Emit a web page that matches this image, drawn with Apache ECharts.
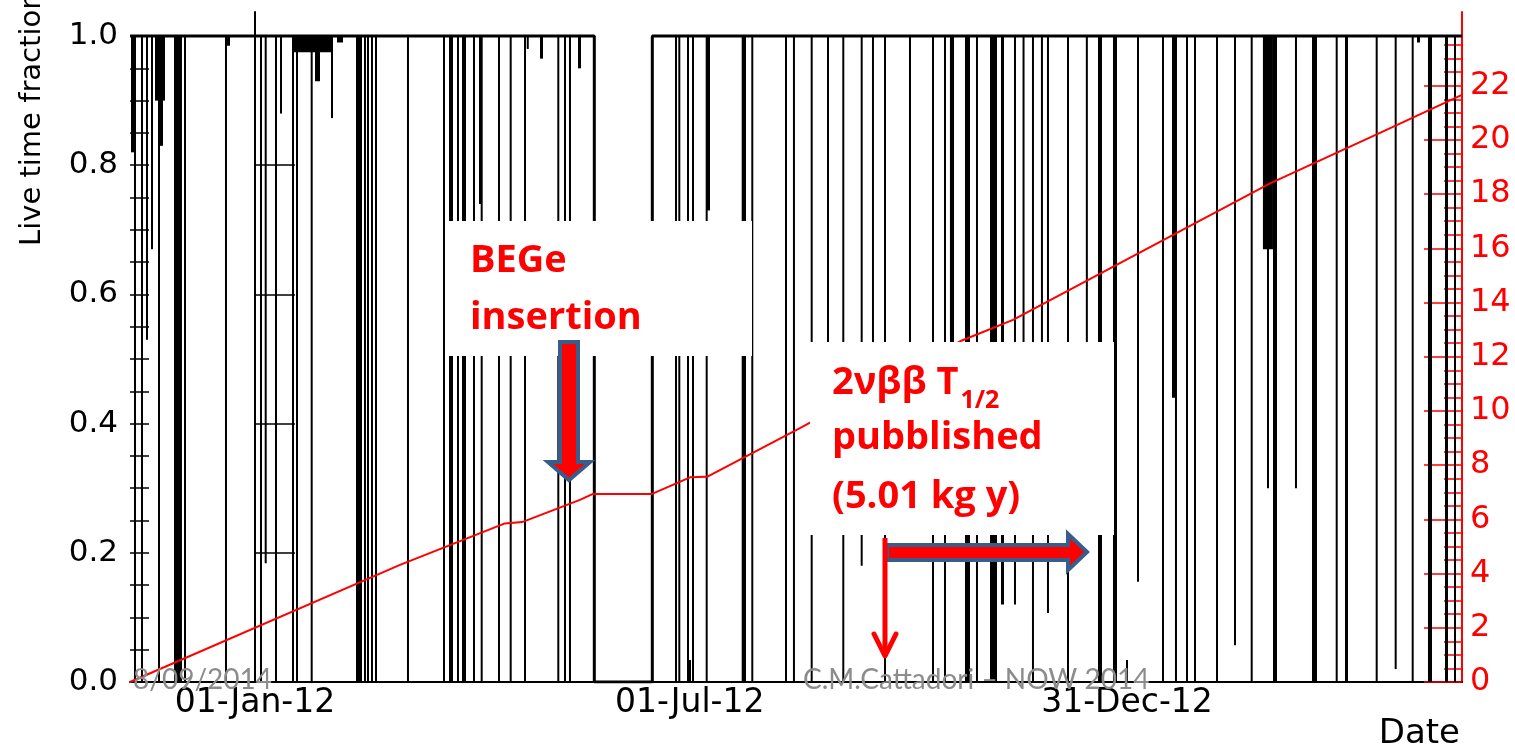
<!DOCTYPE html>
<html><head><meta charset="utf-8">
<script src="https://cdn.jsdelivr.net/npm/echarts@6/dist/echarts.min.js"></script>
<style>html,body{margin:0;padding:0;background:#fff}#c{width:1515px;height:749px}</style>
</head><body><div id="c"></div>
<script>
// ---- data (days counted from 01-Jan-2012) ----
const xRange = [-52.32, 505.23];
const xTickDays = [0, 182, 365];
const xTickLabels = ['01-Jan-12', '01-Jul-12', '31-Dec-12'];
const leftTicks = [0, 0.2, 0.4, 0.6, 0.8, 1.0];
const rightTicks = [0, 2, 4, 6, 8, 10, 12, 14, 16, 18, 20, 22];
// live-time fraction of the runs (step outline): start day, fraction
const runDays = [-52.32, 142.03, 166.31, 505.23];
const runLive = [1, 0, 1, 1];
// dips of the live-time fraction: [start day, end day, fraction]
const dips = [
  [-51.9, -50.23, 0.82], [-50.23, -50.23, 0], [-47.3, -47.3, 0], [-45.21, -45.21, 0.53],
  [-43.11, -43.11, 0.67], [-41.86, -37.67, 0.9], [-39.77, -38.51, 0.83], [-40.18, -40.18, 0],
  [-33.9, -30.56, 0], [-29.3, -29.3, 0], [-12.14, -10.46, 0.985], [-12.14, -12.14, 0],
  [2.51, 2.51, 0], [4.48, 4.48, 0.184], [8.79, 8.79, 0], [10.88, 10.88, 0.88],
  [15.91, 15.91, 0], [17.58, 17.58, 0], [15.91, 32.65, 0.975], [25.11, 27.21, 0.93],
  [32.23, 32.23, 0.873], [23.73, 23.73, 0], [34.32, 36.84, 0.99],
  [42.28, 44.79, 0], [46.04, 46.04, 0], [47.3, 47.3, 0], [48.97, 48.97, 0], [50.23, 51.07, 0],
  [64.04, 64.04, 0], [79.11, 79.11, 0], [81.21, 82.88, 0], [84.97, 84.97, 0], [86.65, 88.32, 0],
  [91.67, 91.67, 0], [93.76, 95.02, 0.74], [94.89, 94.89, 0], [102.13, 102.13, 0],
  [107.03, 107.03, 0], [113.02, 113.02, 0], [113.85, 114.5, 0.98], [119.3, 120.55, 0.965],
  [126.96, 126.96, 0], [129.76, 129.76, 0], [131.85, 131.85, 0], [135.2, 136.46, 0.95],
  [176.23, 176.23, 0], [177.61, 177.61, 0], [181.25, 181.25, 0], [183.34, 183.34, 0],
  [189.07, 189.07, 0], [189.2, 190.45, 0.73], [203.72, 205.52, 0], [208.16, 208.16, 0],
  [222.27, 222.27, 0], [225.6, 225.6, 0], [233.02, 233.02, 0], [239.85, 239.85, 0.4],
  [246.25, 246.25, 0], [253.95, 253.95, 0.18], [258.68, 258.68, 0.4], [263.71, 263.71, 0],
  [274.17, 274.17, 0.3], [283.8, 283.8, 0], [288.82, 288.82, 0], [290.9, 292.6, 0.35],
  [297.19, 299.28, 0], [302.21, 302.21, 0], [307.66, 310.59, 0], [312.26, 313.52, 0.12],
  [318.12, 318.12, 0.12], [321.7, 321.7, 0.35], [325.65, 325.65, 0], [329.4, 329.4, 0.35],
  [331.93, 331.93, 0.107], [340.31, 340.31, 0], [348.2, 348.2, 0.35], [352.86, 354.54, 0],
  [359.14, 360.82, 0], [369.61, 369.61, 0.155], [380.07, 380.07, 0], [383.84, 385.09, 0.44],
  [385.51, 385.51, 0], [390.12, 390.12, 0], [393.47, 393.47, 0], [402.68, 402.68, 0],
  [410.21, 410.21, 0.057], [417.2, 417.2, 0], [421.9, 426.1, 0.67], [424.02, 424.02, 0.3],
  [426.12, 427.79, 0], [435.74, 435.74, 0.3], [442.44, 444.53, 0], [452.78, 452.78, 0],
  [456.25, 457.51, 0], [469.52, 469.52, 0], [477.47, 477.47, 0.02], [484.59, 484.59, 0],
  [486.39, 487.65, 0.99], [490.99, 492.67, 0], [498.11, 499.37, 0], [502.3, 502.3, 0]
];
// cumulative exposure (kg yr)
const expDays = [-52.32, 60.7, 104.6, 111.8, 136.0, 141.5, 166.2, 182.1, 189.2, 228.1, 295.9, 317.3, 424.9, 470.9, 505.2];
const expValues = [0, 4.32, 5.85, 5.9, 6.72, 6.94, 6.94, 7.55, 7.57, 9.37, 12.6, 13.36, 18.4, 20.26, 21.66];

// ---- build ----
const leftMinor = []; for (let k = 0; k <= 20; k++) leftMinor.push(+(k * 0.05).toFixed(2));
const rightMinor = []; for (let k = 0; k <= 47; k++) rightMinor.push(k * 0.5);
const runData = runDays.map((d, i) => [d, runLive[i]]);
const expData = expDays.map((d, i) => [d, expValues[i]]);
const RED = '#ff0000';
const F = '"DejaVu Sans", sans-serif';
const ANN = 'bold 38px "Open Sans"';
const mctx = document.createElement('canvas').getContext('2d');
mctx.font = ANN;
const tWidth = mctx.measureText('2νββ T').width;

const chart = echarts.init(document.getElementById('c'));
chart.setOption({
  animation: false,
  backgroundColor: '#fff',
  grid: { left: 130, right: 53, top: 12, bottom: 67 },
  xAxis: {
    type: 'value', min: xRange[0], max: xRange[1],
    axisLine: { lineStyle: { color: '#000', width: 2 } },
    axisTick: { inside: true, length: 22, customValues: xTickDays, lineStyle: { color: '#000', width: 2 } },
    axisLabel: { customValues: xTickDays, margin: 5, color: '#000', fontFamily: F, fontSize: 33,
      formatter: v => xTickLabels[xTickDays.indexOf(v)] },
    splitLine: { show: false }
  },
  yAxis: [
    { type: 'value', position: 'left', min: 0, max: 1.0372,
      axisLine: { show: true, lineStyle: { color: '#000', width: 2 } },
      axisTick: { inside: true, length: 40, customValues: leftTicks, lineStyle: { color: '#000', width: 1.5 } },
      axisLabel: { customValues: leftTicks, margin: 12, color: '#000', fontFamily: F, fontSize: 31,
        formatter: v => v.toFixed(1) },
      splitLine: { show: false } },
    { type: 'value', position: 'left', min: 0, max: 1.0372,
      axisLine: { show: false },
      axisTick: { inside: true, length: 19, customValues: leftMinor, lineStyle: { color: '#000', width: 1.5 } },
      axisLabel: { show: false }, splitLine: { show: false } },
    { type: 'value', position: 'right', min: 0, max: 24.72,
      axisLine: { show: true, lineStyle: { color: RED, width: 2 } },
      axisTick: { inside: true, length: 38, customValues: rightTicks, lineStyle: { color: RED, width: 1.5 } },
      axisLabel: { customValues: rightTicks, margin: 8, color: RED, fontFamily: F, fontSize: 32 },
      splitLine: { show: false } },
    { type: 'value', position: 'right', min: 0, max: 24.72,
      axisLine: { show: false },
      axisTick: { inside: true, length: 18, customValues: rightMinor, lineStyle: { color: RED, width: 1.5 } },
      axisLabel: { show: false }, splitLine: { show: false } }
  ],
  series: [
    { name: 'Live time fraction', type: 'line', yAxisIndex: 0, step: 'end', data: runData,
      symbol: 'none', lineStyle: { color: '#000', width: 3 }, z: 2 },
    { name: 'Dips', type: 'custom', yAxisIndex: 0, data: dips, z: 3,
      renderItem: function (params, api) {
        const p0 = api.coord([api.value(0), 1]);
        const p1 = api.coord([api.value(1), api.value(2)]);
        let x = p0[0], w = p1[0] - p0[0];
        if (w < 2) { x = (p0[0] + p1[0]) / 2 - 1; w = 2; }
        return { type: 'rect', shape: { x: x, y: p0[1], width: w, height: p1[1] - p0[1] },
          style: { fill: '#000' } };
      } },
    { name: 'Exposure', type: 'line', yAxisIndex: 2, data: expData, symbol: 'none',
      lineStyle: { color: RED, width: 2 }, z: 5 }
  ],
  graphic: [
    { type: 'text', x: 32, y: 246, rotation: Math.PI / 2, z: 50,
      style: { text: 'Live time fraction', font: '29px "DejaVu Sans"', fill: '#000', align: 'left', verticalAlign: 'middle' } },
    { type: 'text', x: 1460, y: 717, z: 50,
      style: { text: 'Date', font: '34px "DejaVu Sans"', fill: '#000', align: 'right', verticalAlign: 'top' } },
    { type: 'rect', z: 60, shape: { x: 448, y: 221, width: 304, height: 135 }, style: { fill: '#fff' } },
    { type: 'rect', z: 60, shape: { x: 810, y: 342, width: 304, height: 193 }, style: { fill: '#fff' } },
    { type: 'text', x: 470, y: 261, z: 70,
      style: { text: 'BEGe', font: ANN, fill: RED, verticalAlign: 'middle' } },
    { type: 'text', x: 470, y: 318, z: 70,
      style: { text: 'insertion', font: ANN, fill: RED, verticalAlign: 'middle' } },
    { type: 'text', x: 832, y: 383, z: 70,
      style: { text: '2νββ T', font: ANN, fill: RED, verticalAlign: 'middle' } },
    { type: 'text', x: 832 + tWidth + 2, y: 401, z: 70,
      style: { text: '1/2', font: 'bold 25px "Open Sans"', fill: RED, verticalAlign: 'middle' } },
    { type: 'text', x: 832, y: 438, z: 70,
      style: { text: 'pubblished', font: ANN, fill: RED, verticalAlign: 'middle' } },
    { type: 'text', x: 832, y: 497, z: 70,
      style: { text: '(5.01 kg y)', font: ANN, fill: RED, verticalAlign: 'middle' } },
    { type: 'polygon', z: 80,
      shape: { points: [[560, 342], [578, 342], [578, 462], [590, 462], [569, 480], [548, 462], [560, 462]] },
      style: { fill: RED, stroke: '#385d8a', lineWidth: 4, lineJoin: 'miter' } },
    { type: 'polygon', z: 80,
      shape: { points: [[887, 545], [1068, 545], [1068, 534], [1087, 552], [1068, 570], [1068, 560], [887, 560]] },
      style: { fill: RED, stroke: '#385d8a', lineWidth: 4, lineJoin: 'miter' } },
    { type: 'line', z: 85, shape: { x1: 885, y1: 538, x2: 885, y2: 656 }, style: { stroke: RED, lineWidth: 5 } },
    { type: 'polyline', z: 85, shape: { points: [[874, 634], [885, 656], [896, 634]] },
      style: { stroke: RED, lineWidth: 5, fill: null, lineCap: 'round', lineJoin: 'round' } },
    { type: 'text', x: 133, y: 680, z: 90,
      style: { text: '8/09/2014', font: '28px Lato', fill: '#8c8c8c', verticalAlign: 'middle' } },
    { type: 'text', x: 803, y: 680, z: 90,
      style: { text: 'C.M.Cattadori – NOW 2014', font: '28px Lato', fill: '#8c8c8c', verticalAlign: 'middle' } }
  ]
});
</script></body></html>
